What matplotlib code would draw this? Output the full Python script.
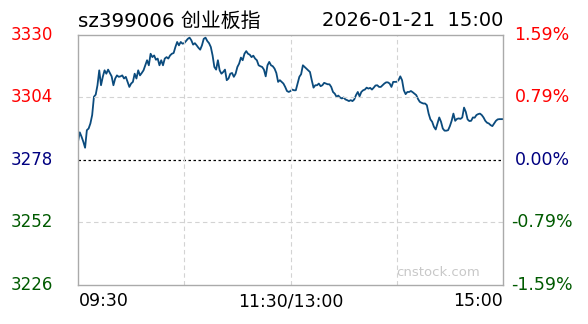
import matplotlib
matplotlib.use("Agg")
import matplotlib.pyplot as plt

# intraday minute prices, 09:30 .. 11:30 / 13:00 .. 15:00 (241 points)
prices = [
    3285.6, 3289.5, 3287.7, 3285.6, 3283.1, 3290.4, 3291.1, 3293.2, 3296.7, 3304.3,
    3305.2, 3309.1, 3315.3, 3309.1, 3312.6, 3315.3, 3313.9, 3315.6, 3314.2, 3312.8,
    3309.1, 3311.9, 3313.2, 3312.6, 3312.8, 3313.2, 3311.9, 3312.6, 3310.5, 3308.4,
    3309.8, 3310.5, 3313.9, 3311.9, 3315.3, 3313.2, 3314.2, 3315.3, 3317.4, 3319.5,
    3317.4, 3322.2, 3320.8, 3321.5, 3319.7, 3320.2, 3317.4, 3319.5, 3317.4, 3320.2,
    3320.8, 3320.2, 3321.5, 3322.2, 3322.5, 3325.0, 3327.1, 3325.7, 3327.1, 3326.4,
    3326.6, 3327.5, 3328.4, 3328.9, 3327.8, 3326.0, 3326.6, 3325.7, 3324.7, 3323.9,
    3325.7, 3328.4, 3328.9, 3327.5, 3326.6, 3325.0, 3321.5, 3316.7, 3315.6, 3319.5,
    3315.3, 3313.9, 3314.6, 3315.6, 3311.2, 3311.9, 3313.9, 3314.2, 3312.6, 3313.9,
    3316.7, 3318.1, 3320.6, 3319.5, 3322.2, 3323.3, 3322.2, 3321.8, 3320.8, 3321.4,
    3320.2, 3319.5, 3317.4, 3317.0, 3316.7, 3315.6, 3312.8, 3317.4, 3318.8, 3317.4,
    3317.0, 3316.0, 3314.2, 3310.5, 3311.2, 3310.5, 3309.8, 3308.4, 3306.7, 3306.3,
    3306.7, 3307.3, 3307.0, 3307.0, 3309.8, 3312.6, 3313.7, 3317.4, 3316.7, 3316.0,
    3315.3, 3314.6, 3311.2, 3308.1, 3309.1, 3309.1, 3309.8, 3308.7, 3309.1, 3310.1,
    3309.8, 3309.5, 3309.5, 3308.4, 3306.3, 3305.6, 3304.3, 3304.8, 3304.0, 3303.6,
    3304.0, 3303.2, 3302.9, 3302.5, 3302.9, 3302.5, 3303.2, 3305.0, 3306.3, 3304.5,
    3306.3, 3307.0, 3307.3, 3308.1, 3307.7, 3308.0, 3307.3, 3308.1, 3309.0, 3309.1,
    3308.4, 3308.4, 3309.1, 3309.8, 3310.3, 3310.3, 3309.8, 3308.4, 3310.5, 3310.5,
    3310.5, 3311.2, 3312.8, 3311.2, 3307.0, 3305.4, 3306.3, 3306.3, 3306.7, 3306.2,
    3305.6, 3305.0, 3303.4, 3302.2, 3301.8, 3301.5, 3301.5, 3300.8, 3297.3, 3294.9,
    3293.9, 3291.8, 3290.7, 3293.2, 3295.7, 3293.9, 3291.1, 3290.2, 3290.2, 3290.4,
    3292.1, 3294.3, 3297.3, 3294.3, 3295.1, 3295.3, 3295.1, 3295.7, 3299.8, 3298.0,
    3294.9, 3294.2, 3294.3, 3295.7, 3295.6, 3296.7, 3297.1, 3297.3, 3296.7, 3295.7,
    3294.3, 3293.5, 3293.2, 3292.5, 3292.1, 3293.2, 3294.3, 3294.9, 3295.0, 3295.0,
    3295.0,
]
minutes = list(range(len(prices)))

prev_close = 3278
left_ticks = [3330, 3304, 3278, 3252, 3226]
right_labels = ["1.59%", "0.79%", "0.00%", "-0.79%", "-1.59%"]
tick_colors = ["#ff0000", "#ff0000", "#000080", "#005a00", "#005a00"]
time_labels = ["09:30", "11:30/13:00", "15:00"]
title_left = "sz399006 创业板指"
title_right = "2026-01-21  15:00"

fonts = ["DejaVu Sans", "Noto Sans CJK SC"]

fig = plt.figure(figsize=(5.88, 3.24), dpi=100)
ax = fig.add_axes([78 / 588, 39 / 324, 425 / 588, 250 / 324])

ax.plot(minutes, prices, color="#0b4b7d", linewidth=1.3)
ax.axhline(prev_close, color="black", linestyle=(0, (2, 2)), linewidth=0.9)
for v in [3304, 3252]:
    ax.axhline(v, color="#d3d3d3", linestyle=(0, (4, 3)), linewidth=0.8)
for m in [60, 120, 180]:
    ax.axvline(m, color="#d3d3d3", linestyle=(0, (4, 3)), linewidth=0.8)

ax.set_xlim(0, 240)
ax.set_ylim(3226, 3330)
ax.set_xticks([])
ax.set_yticks([])
for s in ax.spines.values():
    s.set_color("#aaaaaa")
    s.set_linewidth(1.0)

for v, lab, c in zip(left_ticks, right_labels, tick_colors):
    y = ax.transData.transform((0, v))[1] / 324
    fig.text(32 / 588, y, str(v), color=c, fontsize=12, ha="center", va="center", family=fonts)
    fig.text(542 / 588, y, lab, color=c, fontsize=12.5, ha="center", va="center", family=fonts)

fig.text(78 / 588, 1 - 21 / 324, title_left, fontsize=14.3, ha="left", va="center", family=fonts)
fig.text(503 / 588, 1 - 21 / 324, title_right, fontsize=14, ha="right", va="center", family=fonts)

fig.text(79 / 588, 1 - 301 / 324, time_labels[0], fontsize=12.5, ha="left", va="center", family=fonts)
fig.text(291 / 588, 1 - 301 / 324, time_labels[1], fontsize=12.5, ha="center", va="center", family=fonts)
fig.text(503 / 588, 1 - 301 / 324, time_labels[2], fontsize=12.5, ha="right", va="center", family=fonts)

fig.text(438 / 588, 1 - 273 / 324, "cnstock.com", color="#c8c8c8", fontsize=9.5, ha="center", va="center", family=fonts)

fig.savefig("out.png", dpi=100)
